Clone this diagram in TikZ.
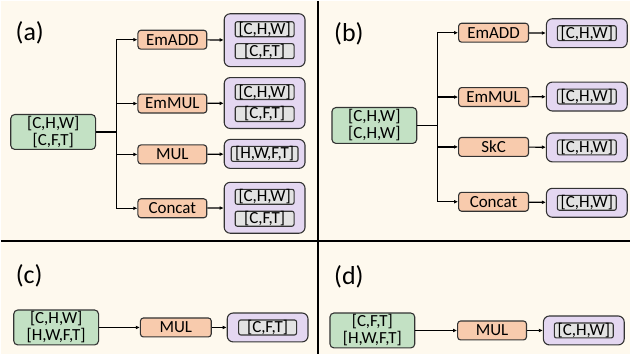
\documentclass[tikz,border=0pt]{standalone}
\usepackage{fontspec}
\setmainfont{Carlito}
\usepackage{xcolor}
\usepackage{tikz}
\usetikzlibrary{positioning,arrows.meta,calc}
\definecolor{paper}{HTML}{FEF9EE}
\definecolor{edge}{HTML}{333333}
\definecolor{ingreen}{HTML}{C3E1C4}
\definecolor{oporange}{HTML}{F8CBAD}
\definecolor{outlilac}{HTML}{E4D7F1}
\definecolor{dimgrey}{HTML}{E3E3E3}

\begin{document}
\begin{tikzpicture}[
    x=1pt, y=-1pt,
    font=\fontsize{17}{17}\selectfont,
    inbox/.style={draw=edge, line width=1.1pt, fill=ingreen, minimum width=85pt, minimum height=35pt, inner sep=0pt, align=center, rounded corners=4pt},
    opbox/.style={draw=edge, line width=1.1pt, fill=oporange, minimum width=69pt, minimum height=19pt, inner sep=0pt, rounded corners=3pt},
    outbox/.style={draw=edge, line width=1.1pt, fill=outlilac, minimum width=81pt, minimum height=29pt, inner sep=0pt, rounded corners=6pt},
    dimbox/.style={draw=edge, line width=1.1pt, fill=dimgrey, minimum width=59pt, minimum height=15pt, inner sep=0pt, rounded corners=2pt},
    tag/.style={font=\fontsize{26}{26}\selectfont, inner sep=0pt},
    wire/.style={line width=1.2pt, draw=black},
    arr/.style={wire, -{Latex[length=4pt,width=3.8pt]}}
]
    % background and panel dividers
    \fill[paper] (0,0) rectangle (631,354);
    \coordinate (vtop) at (318,0);
    \coordinate (vbot) at (318,354);
    \coordinate (hl) at (0,241);
    \coordinate (hr) at (631,241);
    \draw[black, line width=1.6pt] (vtop) -- (vbot);
    \draw[black, line width=1.6pt] (hl) -- (hr);

    % (a)
    \node[tag] (ta) at (29,32) {(a)};
    \node[inbox] (ga) at (52.5,131.5) {[C,H,W]\\{[C,F,T]}};
    \coordinate (ja) at (116,131.5);
    \node[opbox] (opA1) at (172,39) {EmADD};
    \node[opbox] (opA2) at (172,103) {EmMUL};
    \node[opbox] (opA3) at (172,154) {MUL};
    \node[opbox] (opA4) at (172,208) {Concat};
    \node[outbox, minimum height=53pt] (oA1) at (264.5,39.5) {};
    \node[outbox, minimum height=51pt] (oA2) at (264.5,102.5) {};
    \node[outbox] (oA3) at (264.5,153.5) {};
    \node[outbox, minimum height=51pt] (oA4) at (264.5,207.5) {};
    \node[dimbox] at ([yshift=11pt]oA1.center) {[C,H,W]};
    \node[dimbox] at ([yshift=-11pt]oA1.center) {[C,F,T]};
    \node[dimbox] at ([yshift=11pt]oA2.center) {[C,H,W]};
    \node[dimbox] at ([yshift=-11pt]oA2.center) {[C,F,T]};
    \node[dimbox, minimum width=67pt] at (oA3.center) {[H,W,F,T]};
    \node[dimbox] at ([yshift=11pt]oA4.center) {[C,H,W]};
    \node[dimbox] at ([yshift=-11pt]oA4.center) {[C,F,T]};

    \draw[wire] (ga) -- (ja);
    \draw[arr] (ja) |- (opA1);
    \draw[arr] (ja) |- (opA2);
    \draw[arr] (ja) |- (opA3);
    \draw[arr] (ja) |- (opA4);
    \draw[arr] (opA1) -- (oA1);
    \draw[arr] (opA2) -- (oA2);
    \draw[arr] (opA3) -- (oA3);
    \draw[arr] (opA4) -- (oA4);

    % (b)
    \node[tag] (tb) at (349,33) {(b)};
    \node[inbox, minimum height=36pt] (gb) at (374.5,125) {[C,H,W]\\{[C,H,W]}};
    \coordinate (jb) at (438,125);
    \node[opbox, minimum width=70pt] (opB1) at (494,32) {EmADD};
    \node[opbox, minimum width=70pt] (opB2) at (494,96.5) {EmMUL};
    \node[opbox, minimum width=70pt] (opB3) at (494,146.5) {SkC};
    \node[opbox, minimum width=70pt] (opB4) at (494,201.5) {Concat};
    \node[outbox] (oB1) at (587.5,32.5) {};
    \node[outbox] (oB2) at (587.5,96) {};
    \node[outbox] (oB3) at (587.5,147) {};
    \node[outbox] (oB4) at (587.5,202.5) {};
    \node[dimbox] at (oB1.center) {[C,H,W]};
    \node[dimbox] at (oB2.center) {[C,H,W]};
    \node[dimbox] at (oB3.center) {[C,H,W]};
    \node[dimbox] at (oB4.center) {[C,H,W]};

    \draw[wire] (gb) -- (jb);
    \draw[arr] (jb) |- (opB1);
    \draw[arr] (jb) |- (opB2);
    \draw[arr] (jb) |- (opB3);
    \draw[arr] (jb) |- (opB4);
    \draw[arr] (opB1) -- (oB1);
    \draw[arr] (opB2) -- (oB2);
    \draw[arr] (opB3) -- (oB3);
    \draw[arr] (opB4) -- (oB4);

    % (c)
    \node[tag] (tc) at (28.5,276) {(c)};
    \node[inbox] (gc) at (55.5,327.5) {[C,H,W]\\{[H,W,F,T]}};
    \node[opbox, minimum width=71pt] (opC) at (175.5,327.5) {MUL};
    \node[outbox] (oC) at (267.5,327.5) {};
    \node[dimbox, minimum width=58pt] at (oC.center) {[C,F,T]};
    \draw[arr] (gc) -- (opC);
    \draw[arr] (opC) -- (oC);

    % (d)
    \node[tag] (td) at (349,277) {(d)};
    \node[inbox] (gd) at (372.5,330.5) {[C,F,T]\\{[H,W,F,T]}};
    \node[opbox] (opD) at (492.5,330.5) {MUL};
    \node[outbox] (oD) at (584.5,330.5) {};
    \node[dimbox] at (oD.center) {[C,H,W]};
    \draw[arr] (gd) -- (opD);
    \draw[arr] (opD) -- (oD);
\end{tikzpicture}
\end{document}
